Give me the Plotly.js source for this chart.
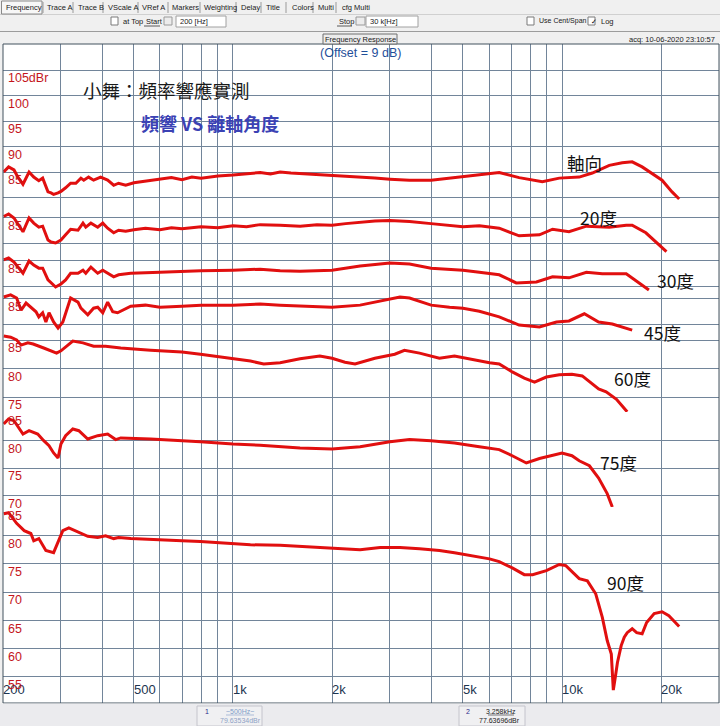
<!DOCTYPE html>
<html><head><meta charset="utf-8">
<script src="https://cdn.plot.ly/plotly-3.0.1.min.js"></script>
<style>html,body{margin:0;padding:0;background:#f0f0f0;overflow:hidden}#chart{width:720px;height:726px}</style>
</head><body><div id="chart"></div>
<script>
// ---------------- DATA ----------------
const curveLabels = ['軸向','20度','30度','45度','60度','75度','90度'];

const freqOnAxis = [201,208,216,222,230,240,248,257,264,274,280,285,294,300,310,321,333,345,352,364,377,396,416,434,449,472,500,542,600,650,700,750,800,900,1000,1100,1210,1300,1391,1500,1600,1800,2000,2200,2434,2700,3000,3440,4000,4552,5000,5608,6444,7407,8714,9810,11280,12360,13920,15240,16340,17520,20140,21600,22700];
const dbOnAxis = [85.0,86.0,85.4,84.0,82.6,85.0,84.0,83.3,83.8,81.1,80.9,80.6,80.9,81.2,81.9,82.8,82.8,83.8,83.4,84.0,83.4,84.0,83.4,82.4,82.8,82.4,82.9,83.2,83.5,83.9,83.5,84.0,83.8,84.2,84.4,84.7,84.9,84.6,85.0,84.8,84.7,84.5,84.4,84.2,84.0,83.8,83.6,83.4,83.4,83.8,84.0,84.4,84.9,83.9,83.1,83.8,84.0,84.8,86.3,86.8,87.0,86.0,83.4,81.1,79.7];

const freq20 = [201,208,216,230,240,248,257,264,274,280,289,300,310,321,338,350,357,370,388,402,416,434,449,472,500,542,600,650,700,800,900,1000,1100,1210,1391,1600,1800,2000,2200,2434,2700,3000,3440,4000,4552,5000,5608,6444,7407,8540,9360,10500,11860,13920,15670,16340,17980,19340,20770];
const db20 = [85.2,85.7,84.9,82.2,84.9,83.9,83.1,83.3,80.6,80.2,80.0,80.6,81.6,82.7,82.5,83.9,83.1,83.9,83.1,83.9,82.9,82.0,82.5,82.3,82.6,82.9,82.6,83.0,82.8,83.2,83.0,83.4,83.2,83.6,83.5,83.3,83.6,83.5,83.8,84.1,84.3,84.4,84.2,83.8,83.4,83.2,83.4,82.9,81.4,81.6,82.7,82.2,83.3,83.1,83.5,83.5,82.0,80.2,78.3];

const freq30 = [201,208,216,230,240,248,257,264,274,280,289,300,310,321,338,350,357,370,388,402,416,434,449,489,600,700,800,1000,1210,1391,1599,2000,2434,3000,3440,4000,5000,5608,6444,7260,8360,9360,10500,11860,13260,15670,16340,17520,18370];
const db30 = [85.1,85.5,84.7,82.5,84.9,84.1,83.5,83.5,81.2,80.6,79.8,80.4,81.2,82.5,82.5,83.1,82.5,83.7,82.5,83.1,82.5,81.8,82.2,82.5,82.7,82.9,83.0,83.1,83.3,83.0,82.9,83.1,83.9,84.5,84.3,83.5,83.1,82.7,82.2,80.6,80.8,81.8,81.6,82.7,82.4,82.4,81.6,80.2,79.2];

const freq45 = [201,211,220,227,235,243,252,257,264,270,276,285,294,304,315,321,338,345,362,377,388,402,416,431,446,489,542,600,700,800,1000,1210,1391,1599,2000,2434,2800,3217,3440,4000,4552,5000,5608,6444,7407,8540,9620,10500,11690,12920,14220,16340];
const db45 = [85.3,85.7,85.1,82.7,84.1,83.3,82.4,81.4,82.2,80.4,82.2,80.4,79.2,80.4,83.3,85.1,84.3,83.1,81.8,83.1,83.3,82.2,84.3,82.4,82.2,83.5,83.7,83.3,83.5,83.7,83.7,83.9,83.7,83.5,83.3,83.7,84.5,85.3,85.1,83.7,83.3,83.1,82.5,81.4,79.8,79.4,80.4,80.6,82.0,80.4,80.0,78.8];

const freq60 = [201,211,220,227,238,247,266,280,291,300,315,326,350,377,410,434,456,562,700,796,1000,1130,1240,1391,1599,1836,2000,2190,2350,2700,3102,3320,3690,4240,4712,5410,6020,6444,7060,7680,8250,8960,9810,10720,11520,12920,13620,14640,15780];
const db60 = [85.7,85.5,85.0,84.1,84.5,84.3,83.6,83.1,82.7,83.1,84.1,84.8,84.5,83.9,83.9,83.8,83.6,83.2,82.9,82.5,81.8,81.3,80.8,81.0,81.7,82.2,81.8,81.1,80.8,81.8,82.5,83.2,82.7,81.8,82.2,81.5,81.0,80.8,79.4,78.3,77.6,78.5,78.9,79.0,78.7,76.4,75.9,74.6,72.4];

const freq75 = [201,208,216,224,230,240,255,266,276,285,294,300,310,326,340,362,388,416,440,456,562,796,1000,1210,1599,2000,2434,3000,3440,4000,4712,5608,6444,7060,7790,8540,10000,10720,11280,12110,12920,13720,14220];
const db75 = [82.9,83.8,83.5,82.2,81.1,81.7,81.1,79.9,79.0,77.7,76.8,79.3,80.8,82.0,81.7,80.2,80.8,81.1,80.1,80.4,80.2,79.7,79.3,79.1,78.6,78.4,78.8,79.7,80.1,79.9,79.5,78.8,78.3,77.2,75.9,76.7,77.7,77.2,76.3,75.4,73.2,70.4,68.0];

const freq90 = [201,208,220,232,243,248,257,270,285,296,304,317,345,362,388,410,434,449,489,562,700,796,1000,1130,1391,1599,2000,2434,2800,3217,3690,4240,4712,5230,6020,6444,7060,7680,8140,8960,9810,10270,11280,11940,12660,13260,13720,14120,14320,14530,14740,15130,15460,15780,16340,16860,17520,18080,19060,20140,21120,22700];
const db90 = [83.9,84.1,82.2,80.9,80.4,79.1,79.5,77.4,77.0,79.1,80.9,81.4,80.4,79.9,79.7,80.0,79.5,79.7,79.5,79.3,79.1,79.0,78.6,78.4,78.3,78.1,77.7,77.5,77.9,77.9,77.7,77.4,77.0,76.5,75.9,75.4,74.3,73.1,73.1,73.8,74.9,74.7,72.4,72.0,69.7,65.5,61.4,59.0,52.6,55.0,57.5,60.5,62.0,62.8,63.5,62.8,62.6,64.6,66.2,66.5,65.8,63.9];

const xTickVals = [200,300,400,500,600,700,800,900,1000,2000,3000,4000,5000,6000,7000,8000,9000,10000,20000];
const xTickText = ['200','','','500','','','','','1k','2k','','','5k','','','','','10k','20k'];

// tick values / labels of the seven stitched panels
const panelTickVals = [[80,85,90,95,100,105],[80,85],[80,85],[80,85],[75,80,85],[70,75,80,85],[55,60,65,70,75,80,85]];
const panelTickText = [['','85','90','95','100','105dBr'],['','85'],['','85'],['','85'],['75','80','85'],['70','75','80','85'],['55','60','65','70','75','80','85']];

const curves = [[freqOnAxis,dbOnAxis],[freq20,db20],[freq30,db30],[freq45,db45],[freq60,db60],[freq75,db75],[freq90,db90]];

// ---------------- LAYOUT ----------------
const W=720,H=726,L=3,R=1,T=44,B=23;
const plotW=W-L-R, plotH=H-T-B;
const px=x=>(x-L)/plotW;
const py=y=>(H-B-y)/plotH;

// panel geometry (pixel top, bottom, y-pixel of 85 dB gridline, pixels per dB)
const panels=[
 {top:44, bot:204, refY:172,   k:5.1},
 {top:204,bot:253, refY:217.5, k:5.1},
 {top:253,bot:292, refY:260.5, k:5.1},
 {top:292,bot:333, refY:298.5, k:5.1},
 {top:333,bot:412, refY:340,   k:5.7},
 {top:412,bot:507, refY:412.3, k:5.57},
 {top:507,bot:703, refY:507.6, k:5.633}
];
const gridCol='#72859a';
const sans='"Liberation Sans", Arial, sans-serif';
const cjk='"Noto Sans CJK TC", "Noto Sans CJK SC", sans-serif';

const layout={
 width:W,height:H,margin:{l:L,r:R,t:T,b:B,pad:0},
 paper_bgcolor:'#f0f0f0',plot_bgcolor:'#ffffff',showlegend:false,
 xaxis:{type:'log',range:[Math.log10(200),Math.log10(30000)],anchor:'y7',
   tickmode:'array',tickvals:xTickVals,ticktext:xTickText,ticks:'',
   showgrid:true,gridcolor:gridCol,gridwidth:1,zeroline:false,showline:false,
   ticklabelposition:'inside right',ticklabeloverflow:'allow',ticklabelstandoff:0,
   tickfont:{family:sans,size:13,color:'#1d3550'},fixedrange:true},
 shapes:[],annotations:[]
};
panels.forEach((p,i)=>{
  const name=i===0?'yaxis':'yaxis'+(i+1);
  layout[name]={
    domain:[py(p.bot),py(p.top)],
    range:[85-(p.bot-p.refY)/p.k, 85+(p.refY-p.top)/p.k],
    anchor:'x',tickmode:'array',tickvals:panelTickVals[i],ticktext:panelTickText[i],
    ticks:'',showgrid:true,gridcolor:gridCol,gridwidth:1,zeroline:false,showline:false,
    ticklabelposition:'inside',ticklabeloverflow:'allow',ticklabelshift:8,ticklabelstandoff:2,
    tickfont:{family:sans,size:12.5,color:'#c4161c'},fixedrange:true
  };
});

const data=curves.map((c,i)=>({
  type:'scatter',mode:'lines',x:c[0],y:c[1],xaxis:'x',yaxis:i===0?'y':'y'+(i+1),
  line:{color:'#e10f0f',width:3},hoverinfo:'skip',showlegend:false,name:curveLabels[i]
}));

const A=layout.annotations, S=layout.shapes;
function txt(t,x,y,o){o=o||{};A.push({text:t,xref:'paper',yref:'paper',x:px(x),y:py(y),
  xanchor:o.xa||'left',yanchor:'middle',showarrow:false,
  font:{family:o.fam||sans,size:o.size||7.5,color:o.color||'#1a1a1a'}});}
function rect(x0,y0,x1,y1,fill,line,lw){S.push({type:'rect',xref:'paper',yref:'paper',x0:px(x0),x1:px(x1),y0:py(y1),y1:py(y0),
  fillcolor:fill||'rgba(0,0,0,0)',line:{color:line||'rgba(0,0,0,0)',width:lw===undefined?1:lw},layer:'above'});}
function hline(x0,x1,y,c,w){S.push({type:'line',xref:'paper',yref:'paper',x0:px(x0),x1:px(x1),y0:py(y),y1:py(y),line:{color:c,width:w||1},layer:'above'});}
function vline(x,y0,y1,c,w){S.push({type:'line',xref:'paper',yref:'paper',x0:px(x),x1:px(x),y0:py(y0),y1:py(y1),line:{color:c,width:w||1},layer:'above'});}

// plot border
rect(3,44,719,703,null,'#43525f',1);

// ---- toolbar (tabs) ----
hline(0,720,14.5,'#d0d0d0',1);
rect(1.5,1,42,14,'#f7f7f7','#8a8a8a',1);
const tabs=[['Frequency',4],['Trace A',45],['Trace B',76],['VScale A',106],['VRef A',140],['Markers',170],['Weighting',202],['Delay',239],['Title',264],['Colors',290],['Multi',316],['cfg Multi',340]];
tabs.forEach(t=>txt(t[0],t[1],7.5,{size:7.5}));
[43,73,103,138,168,200,236,261,286,313,336].forEach(x=>vline(x,2,13,'#9a9a9a',1));
// second row
rect(111,17,118,25,'#ffffff','#7a7a7a',1);
txt('at Top',121,21.5);
txt('Start',144,21.5);hline(144,160,26,'#333',0.8);
rect(164,17,172,25,'#ececec','#9a9a9a',1);
rect(176,16,226,27,'#ffffff','#a0a0a0',1);
txt('200 [Hz]',178,21.5);
txt('Stop',337,21.5);hline(337,352,26,'#333',0.8);
rect(356,17,365,25,'#ececec','#9a9a9a',1);
rect(366,16,418,27,'#ffffff','#a0a0a0',1);
txt('30 k[Hz]',368,21.5);
rect(527,17,534,25,'#ffffff','#7a7a7a',1);
txt('Use Cent/Span',537,21.5,{size:7});
rect(588,17,595,25,'#ffffff','#7a7a7a',1);
txt('✓',588.5,21,{size:7,color:'#000'});
txt('Log',599,21.5);
hline(0,720,31.5,'#9c9c9c',1);
// third row
rect(323,34,397,44,'#ececec','#6e6e6e',1);
txt('Frequency Response',360,39,{size:7.5,xa:'center'});
txt('acq: 10-06-2020 23:10:57',717,39,{size:7.5,xa:'right'});
// header inside plot
txt('(Offset = 9 dB)',360,53,{size:12.5,xa:'center',color:'#1f4f9a'});

// ---- titles ----
txt('小舞：頻率響應實測',81,90,{size:18.5,fam:cjk,color:'#1a1a1a'});
txt('<b>頻響 VS 離軸角度</b>',139,123,{size:18,fam:cjk,color:'#3b42b4'});

// ---- curve labels ----
const labelPos=[[565,162],[578,217],[655,280],[642,332],[612,378],[598,462],[605,582]];
curveLabels.forEach((t,i)=>txt(t,labelPos[i][0],labelPos[i][1],{size:17.5,fam:cjk,color:'#111'}));

// ---- bottom marker readouts ----
rect(0,703.5,720,726,'#ebebee',null,0);
rect(197,706,262,726,'#f0f0f2','#c4c4cc',1);
txt('1',203,711,{size:7,color:'#2a2a8a'});
txt('~500Hz~',240,711,{size:7,xa:'center',color:'#7f9cc8'});hline(226,254,715,'#7f9cc8',0.6);
txt('79.63534dBr',240,720,{size:7,xa:'center',color:'#8ea2c6'});
rect(459,706,525,726,'#f0f0f2','#c4c4cc',1);
txt('2',464,711,{size:7,color:'#2a2a8a'});
txt('3.258kHz',501,711,{size:7,xa:'center',color:'#222'});hline(488,514,715,'#222',0.6);
txt('77.63696dBr',500,720,{size:7,xa:'center',color:'#222'});

Plotly.newPlot('chart',data,layout,{staticPlot:true,displayModeBar:false});
</script></body></html>
